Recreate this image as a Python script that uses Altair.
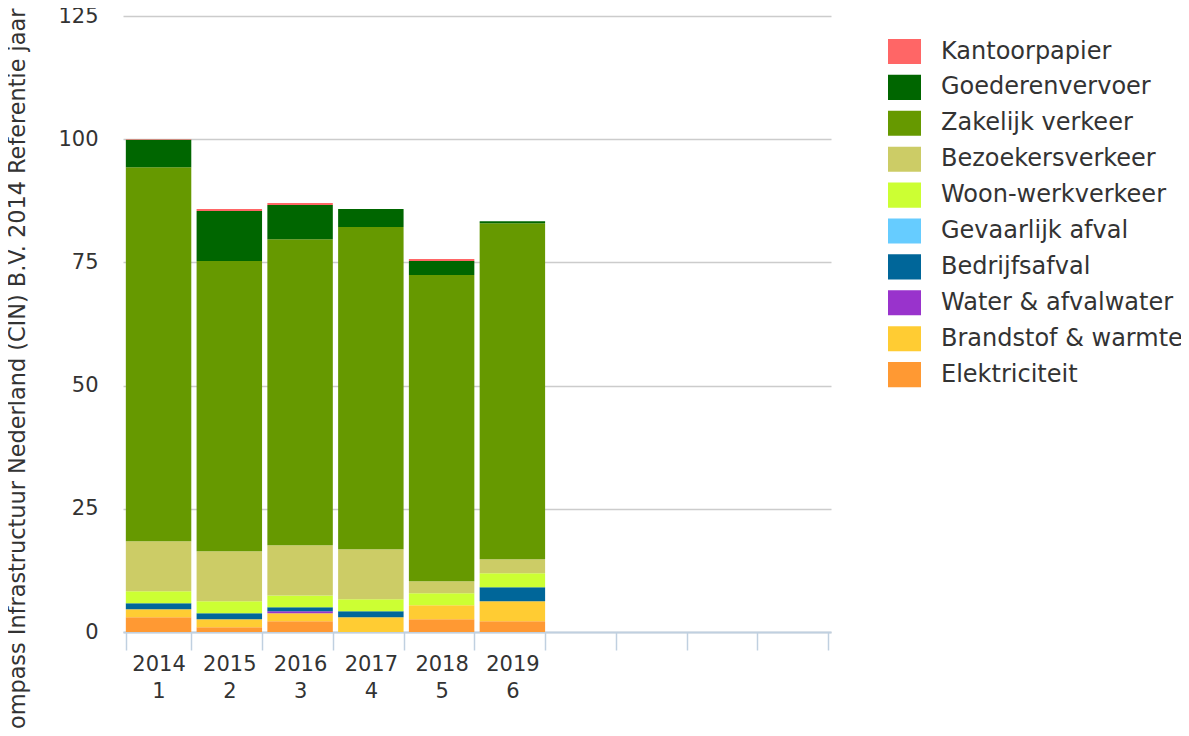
import altair as alt
import pandas as pd

years = ["2014", "2015", "2016", "2017", "2018", "2019"]
slots = [str(i) for i in range(1, 11)]

# stacking order: bottom -> top
categories = [
    "Elektriciteit", "Brandstof & warmte", "Water & afvalwater", "Bedrijfsafval",
    "Gevaarlijk afval", "Woon-werkverkeer", "Bezoekersverkeer", "Zakelijk verkeer",
    "Goederenvervoer", "Kantoorpapier",
]
colors = [
    "#FF9933", "#FFCC33", "#9933CC", "#006699", "#66CCFF",
    "#CCFF33", "#CCCC66", "#669900", "#006600", "#FF6666",
]

elektriciteit = [2.98, 0.95, 2.17, 0.0, 2.58, 2.17]
brandstof = [1.62, 1.62, 1.62, 2.98, 2.84, 4.06]
water = [0.0, 0.0, 0.40, 0.0, 0.0, 0.0]
bedrijfsafval = [1.22, 1.22, 0.81, 1.22, 0.0, 2.84]
gevaarlijk = [0.0, 0.0, 0.0, 0.0, 0.0, 0.0]
woonwerk = [2.43, 2.43, 2.43, 2.43, 2.43, 2.84]
bezoekers = [10.15, 10.15, 10.15, 10.15, 2.43, 2.84]
zakelijk = [75.9, 58.9, 62.1, 65.4, 62.16, 68.2]
goederen = [5.6, 10.15, 6.95, 3.65, 2.84, 0.4]
kantoor = [0.1, 0.4, 0.4, 0.0, 0.41, 0.0]

series = [elektriciteit, brandstof, water, bedrijfsafval, gevaarlijk,
          woonwerk, bezoekers, zakelijk, goederen, kantoor]

rows = []
for ci, (cat, vals) in enumerate(zip(categories, series)):
    for yi, v in enumerate(vals):
        rows.append({"slot": str(yi + 1), "cat": cat, "idx": ci, "value": v})
df = pd.DataFrame(rows)

# label expression: "2014" / "1" on two lines for used slots, blank otherwise
expr = "''"
for i in range(len(years), 0, -1):
    expr = f"datum.value == '{i}' ? ['{years[i-1]}', '{i}'] : ({expr})"

legend_order = list(reversed(categories))
legend_colors = list(reversed(colors))

TXT = "#333333"

chart = alt.Chart(df).mark_bar().encode(
    x=alt.X("slot:O",
            scale=alt.Scale(domain=slots, paddingInner=0.075, paddingOuter=0.04),
            axis=alt.Axis(title=None, labelExpr=expr, tickBand="extent", tickSize=18,
                          tickColor="#C0D0E0", tickWidth=1.5, domainColor="#C0D0E0",
                          domainWidth=2, labelAngle=0, labelFontSize=21, labelColor=TXT,
                          labelLineHeight=27, labelPadding=3, labelBaseline="top",
                          grid=False)),
    y=alt.Y("value:Q", stack="zero",
            scale=alt.Scale(domain=[0, 125], nice=False),
            axis=alt.Axis(values=[0, 25, 50, 75, 100, 125], grid=True,
                          gridColor="#CCCCCC", gridWidth=1.5, domain=False, ticks=False,
                          labelPadding=25, labelFontSize=21, labelColor=TXT,
                          title="Compass Infrastructuur Nederland (CIN) B.V. 2014 Referentie jaar",
                          titleFontSize=22.4, titleFontWeight="normal", titleColor=TXT,
                          titleAngle=270, titleX=-99, titleY=-8, titleAlign="right",
                          titleBaseline="alphabetic")),
    color=alt.Color("cat:N",
                    scale=alt.Scale(domain=legend_order, range=legend_colors),
                    legend=alt.Legend(title=None, orient="none", legendX=765, legendY=19,
                                      symbolType="M-1,-0.76L1,-0.76L1,0.76L-1,0.76Z",
                                      symbolSize=1089, symbolStrokeWidth=0,
                                      symbolOpacity=1, labelFontSize=24, labelColor=TXT,
                                      labelLimit=0, labelOffset=20, rowPadding=5.9,
                                      padding=0)),
    order=alt.Order("idx:Q", sort="ascending"),
).properties(
    width=708, height=616,
    autosize=alt.AutoSizeParams(type="none"),
    padding={"left": 115, "top": 8, "right": 350, "bottom": 96},
).configure(font="DejaVu Sans").configure_view(stroke=None)

chart.save("out.html", embed_options={"renderer": "svg", "actions": False})
